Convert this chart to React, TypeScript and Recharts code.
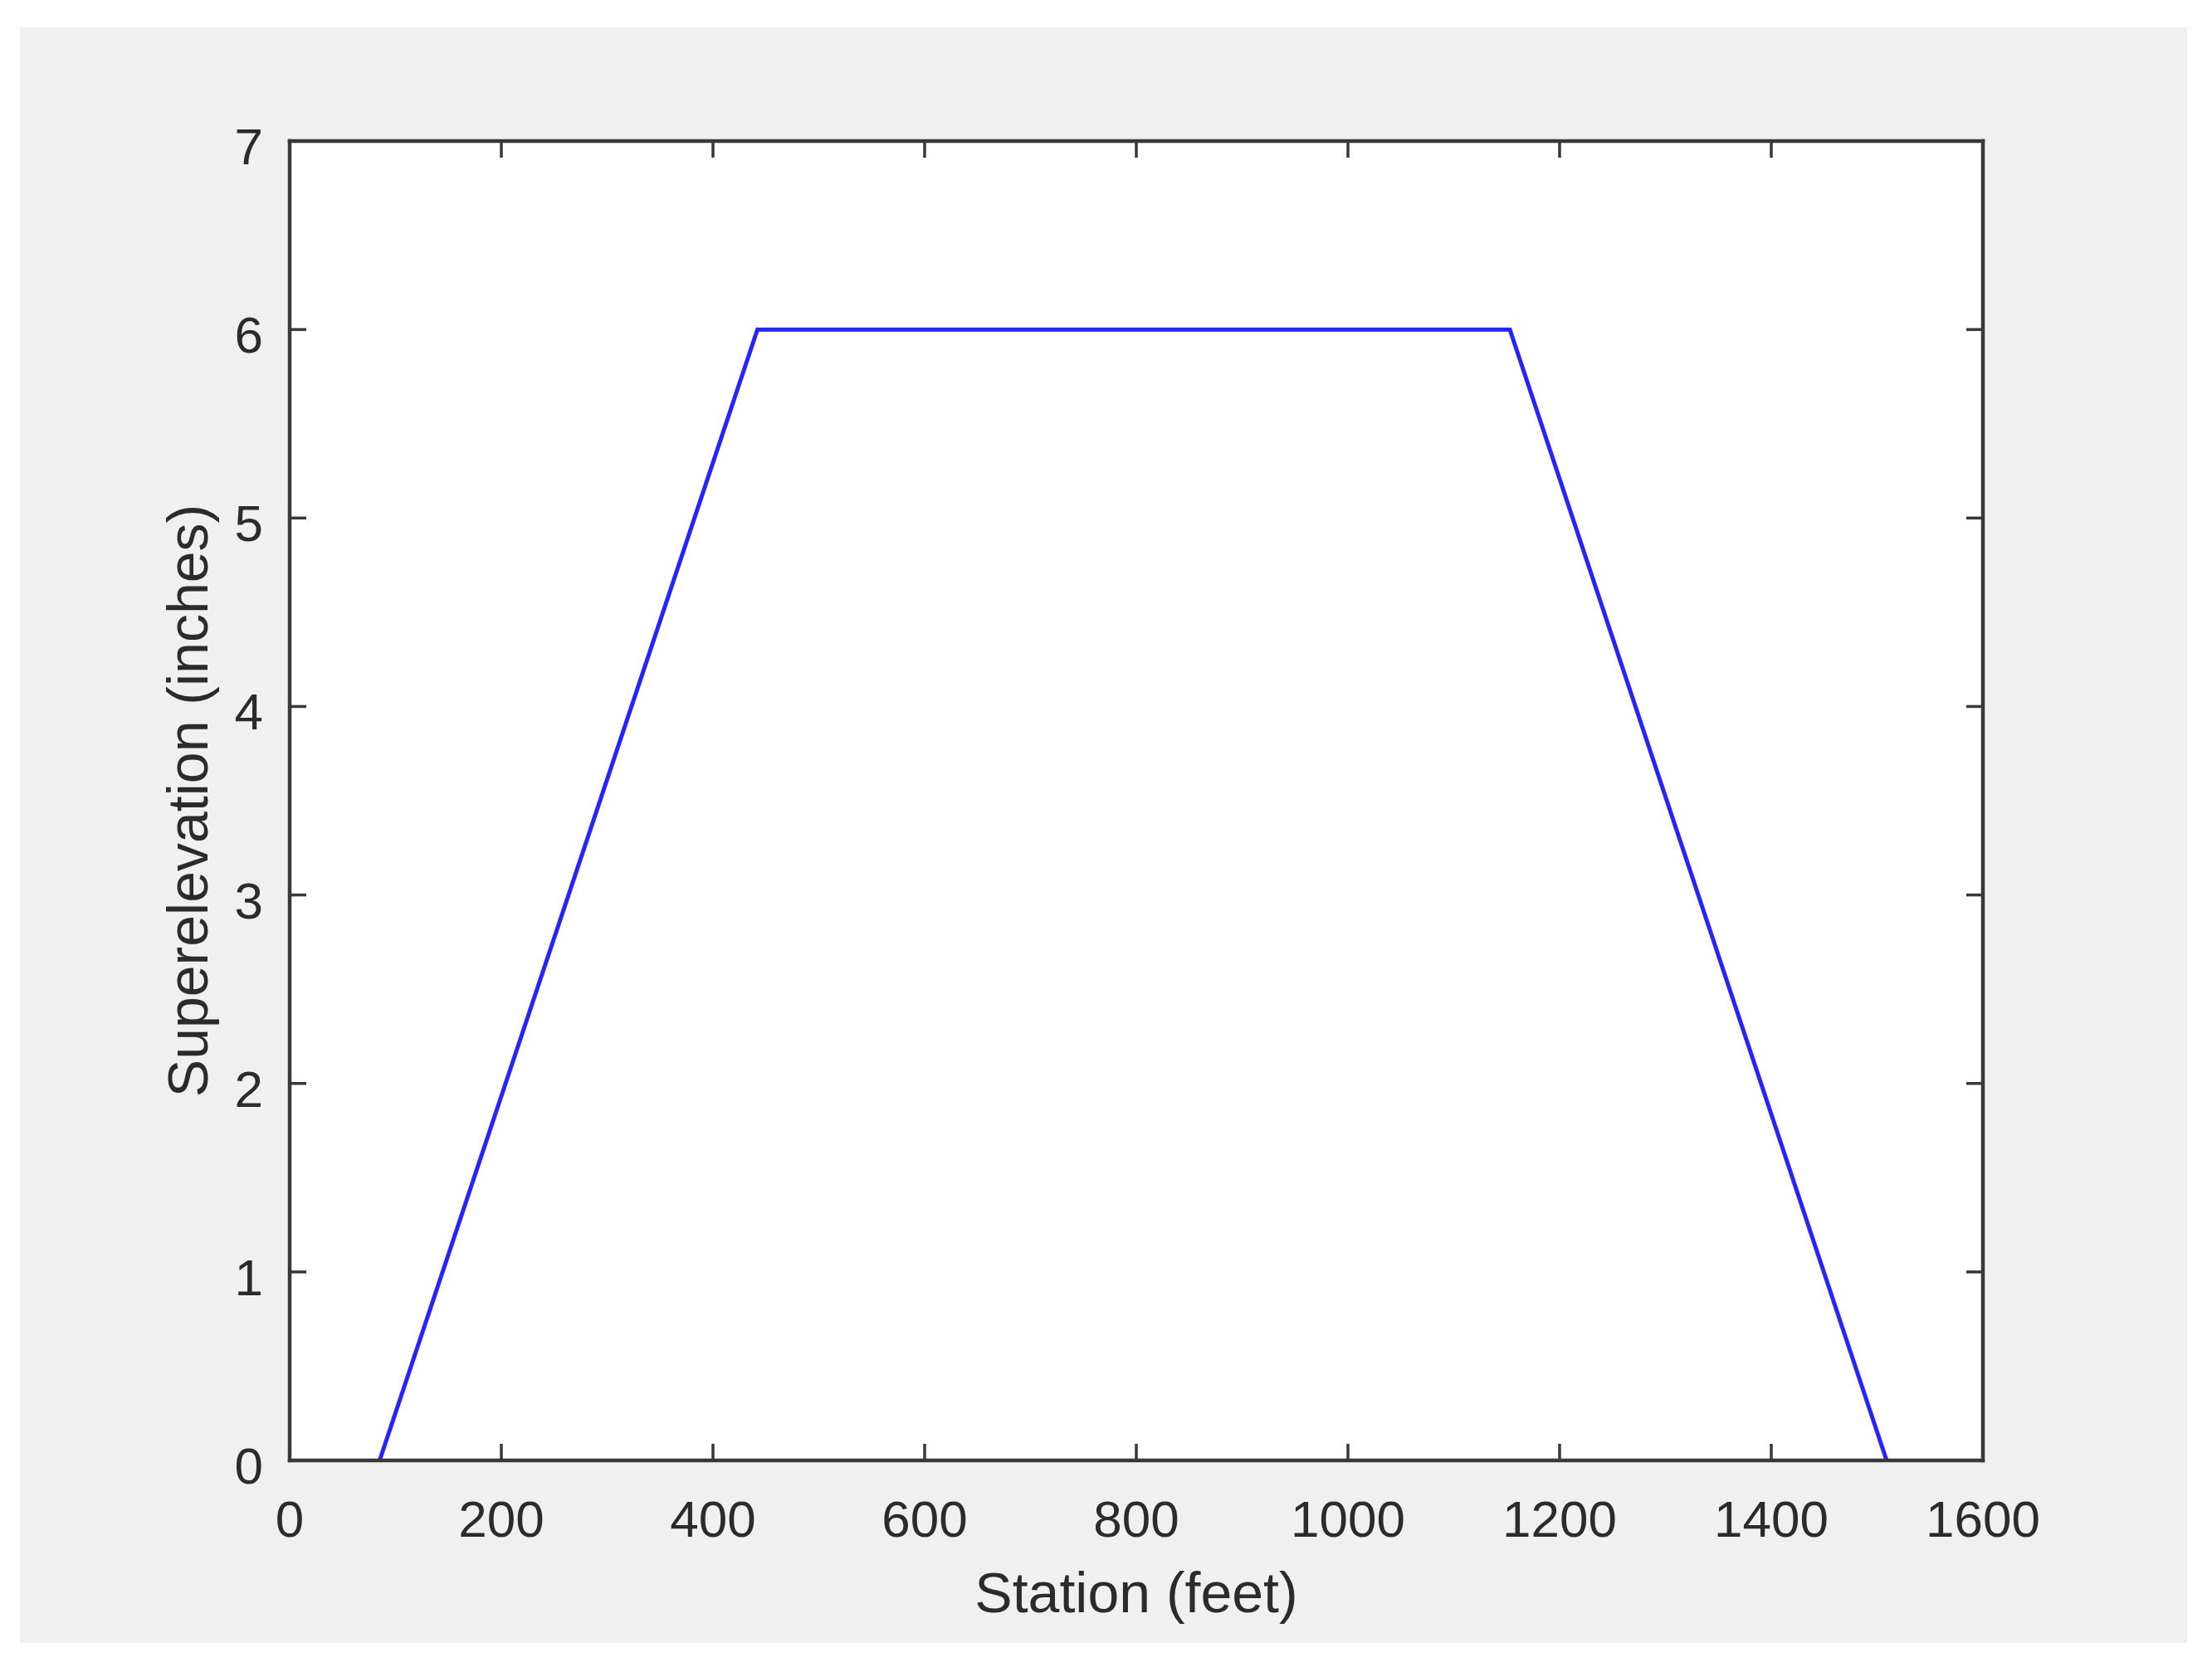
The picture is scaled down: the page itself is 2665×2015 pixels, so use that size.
import React from "react";
import { LineChart, Line, XAxis, YAxis, CartesianGrid } from "recharts";

// station (feet) vs superelevation (inches)
const stations = [85, 442, 1153, 1509];
const superelevation = [0, 6, 6, 0];

const xTicks = [0, 200, 400, 600, 800, 1000, 1200, 1400, 1600];
const yTicks = [0, 1, 2, 3, 4, 5, 6, 7];

const data = stations.map((s, i) => ({ station: s, superelevation: superelevation[i] }));

const FONT = "'Liberation Sans', Arial, Helvetica, sans-serif";
const AXIS = "#383838";
const TEXT = "#2b2b2b";
const TICK_LEN = 20;

function BottomTick(props: any) {
  const { x, y, payload } = props;
  return (
    <g>
      <line x1={x} x2={x} y1={y} y2={y - TICK_LEN} stroke={AXIS} strokeWidth={3.5} />
      <text x={x} y={y + 92} textAnchor="middle" fontSize={62} fontFamily={FONT} fill={TEXT}>
        {payload.value}
      </text>
    </g>
  );
}

function LeftTick(props: any) {
  const { x, y, payload } = props;
  return (
    <g>
      <line x1={x} x2={x + TICK_LEN} y1={y} y2={y} stroke={AXIS} strokeWidth={3.5} />
      <text x={x - 32} y={y + 28} textAnchor="end" fontSize={62} fontFamily={FONT} fill={TEXT}>
        {payload.value}
      </text>
    </g>
  );
}

function TopTick(props: any) {
  const { x, y } = props;
  return <line x1={x} x2={x} y1={y} y2={y + TICK_LEN} stroke={AXIS} strokeWidth={3.5} />;
}

function RightTick(props: any) {
  const { x, y } = props;
  return <line x1={x} x2={x - TICK_LEN} y1={y} y2={y} stroke={AXIS} strokeWidth={3.5} />;
}

function XTitle(props: any) {
  const { x, y, width } = props.viewBox;
  return (
    <text x={x + width / 2} y={y + 183} textAnchor="middle" fontSize={68} fontFamily={FONT} fill={TEXT}>
      Station (feet)
    </text>
  );
}

function YTitle(props: any) {
  const { x, y, width, height } = props.viewBox;
  const bx = x + width - 99;
  const cy = y + height / 2;
  return (
    <text
      x={bx}
      y={cy}
      transform={`rotate(-90, ${bx}, ${cy})`}
      textAnchor="middle"
      fontSize={68}
      fontFamily={FONT}
      fill={TEXT}
    >
      Superelevation (inches)
    </text>
  );
}

const axisLine = { stroke: AXIS, strokeWidth: 4.5, strokeLinecap: "square" as const };

export default function App() {
  return (
    <div style={{ position: "absolute", left: 0, top: 0, width: 2665, height: 2015, background: "#fff" }}>
      <div style={{ position: "absolute", left: 24, top: 33, width: 2611, height: 1947, background: "#f0f0f0" }} />
      <div style={{ position: "absolute", left: 0, top: 0 }}>
        <LineChart
          width={2665}
          height={2015}
          data={data}
          margin={{ top: 169, right: 275, bottom: 155, left: 249 }}
        >
          <CartesianGrid fill="#ffffff" horizontal={false} vertical={false} />
          <XAxis
            dataKey="station"
            type="number"
            domain={[0, 1600]}
            ticks={xTicks}
            interval={0}
            height={100}
            tickSize={0}
            tickMargin={0}
            tickLine={false}
            axisLine={axisLine}
            tick={<BottomTick />}
            label={<XTitle />}
          />
          <XAxis
            xAxisId="top"
            orientation="top"
            dataKey="station"
            type="number"
            domain={[0, 1600]}
            ticks={xTicks}
            interval={0}
            height={1}
            tickSize={0}
            tickMargin={0}
            tickLine={false}
            axisLine={axisLine}
            tick={<TopTick />}
          />
          <YAxis
            type="number"
            domain={[0, 7]}
            ticks={yTicks}
            interval={0}
            width={100}
            tickSize={0}
            tickMargin={0}
            tickLine={false}
            axisLine={axisLine}
            tick={<LeftTick />}
            label={<YTitle />}
          />
          <YAxis
            yAxisId="right"
            orientation="right"
            type="number"
            domain={[0, 7]}
            ticks={yTicks}
            interval={0}
            width={1}
            tickSize={0}
            tickMargin={0}
            tickLine={false}
            axisLine={axisLine}
            tick={<RightTick />}
          />
          <Line
            type="linear"
            dataKey="superelevation"
            stroke="#2424ff"
            strokeWidth={5}
            dot={false}
            activeDot={false}
            isAnimationActive={false}
          />
          {/* same series bound to the mirrored frame axes, kept invisible so they render */}
          <Line
            xAxisId="top"
            yAxisId="right"
            type="linear"
            dataKey="superelevation"
            stroke="none"
            dot={false}
            activeDot={false}
            legendType="none"
            isAnimationActive={false}
          />
        </LineChart>
      </div>
    </div>
  );
}
